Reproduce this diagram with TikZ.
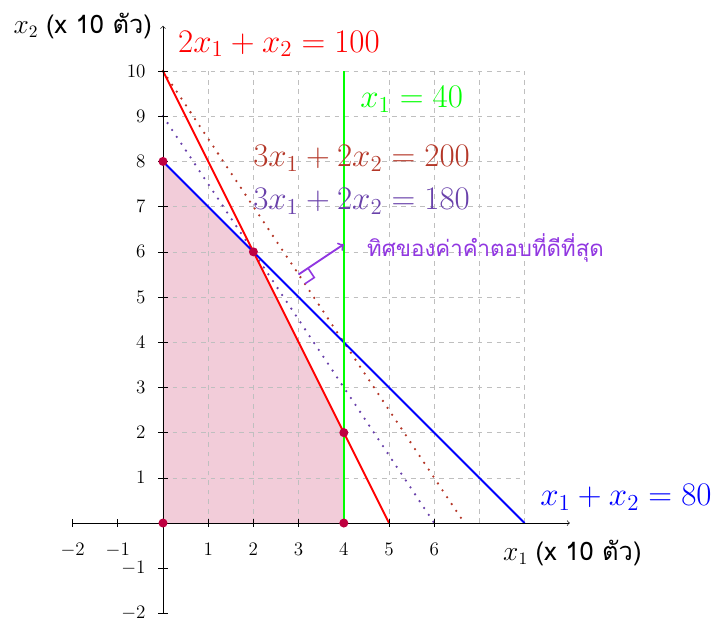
\documentclass[tikz,border=0pt]{standalone}
\usepackage{amsmath, amssymb}
\usepackage{fontspec}
\usepackage[dvipsnames]{xcolor}
\usepackage{tikz}
\usetikzlibrary{positioning, calc}
\newfontfamily\thaifont[Script=Thai]{Loma}
\definecolor{objbrown}{RGB}{180,55,40}
\definecolor{objpurple}{RGB}{105,65,170}
\definecolor{dirviolet}{RGB}{145,55,225}

\begin{document}
\begin{tikzpicture}[
		ticklbl/.style={font=\fontsize{12.8}{14}\selectfont, inner sep=0pt},
		eqlbl/.style={font=\fontsize{19.5}{22}\selectfont, inner sep=0pt, anchor=west},
		axislbl/.style={font=\fontsize{16}{18}\selectfont, inner sep=0pt},
		dotline/.style={line width=1.6pt, line cap=round, dash pattern=on 0pt off 5.2pt},
		bound/.style={line width=1.2pt}
	]
				\useasboundingbox (-3.606,-2.212) rectangle (12.212,11.571);
				% feasible region
				\fill[purple!20] (0,0) -- (0,8) -- (2,6) -- (4,2) -- (4,0) -- cycle;
				\draw[gray!50, dashed] (0,0) grid (8,10);
				% objective lines
				\draw[objbrown, dotline] (0,10) -- (20/3,0);
				\draw[objpurple, dotline] (0,9) -- (6,0);
				% constraints
				\draw[red, bound] (0,10) -- (5,0);
				\draw[blue, bound] (0,8) -- (8,0);
				\draw[green, bound] (4,0) -- (4,10);
				% axes
				\draw[black, ->] (-2,0) -- (9,0);
				\draw[black, ->] (0,-2) -- (0,11);
				\foreach \i in {-2,-1,1,2,3,4,5,6}
					\draw (\i,0.08) -- (\i,-0.08) node[ticklbl, anchor=north, yshift=-0.36cm] {$\i$};
				\foreach \j in {-2,-1,1,2,3,4,5,6,7,8,9,10}
					\draw (0.1,\j) -- (-0.1,\j) node[ticklbl, anchor=east, xshift=-0.28cm] {$\j$};
				\node[axislbl, anchor=west] (xlbl) at (7.52,-0.66) {$x_1$ {\thaifont (x 10 ตัว)}};
				\node[axislbl, anchor=east] (ylbl) at (-0.24,11.0) {$x_2$ {\thaifont (x 10 ตัว)}};
				% corner points
				\foreach \p in {(0,0),(0,8),(2,6),(4,2),(4,0)}
					\fill[purple] \p circle (0.1);
				% direction of best objective
				\coordinate (dirA) at (3,5.5);
				\coordinate (dirB) at (4,6.1667);
				\draw[dirviolet, line width=1.2pt, ->] (dirA) -- (dirB);
				\draw[dirviolet, line width=1pt] ($(dirA)+(0.139,-0.208)$) -- ++(0.208,0.139) -- ++(-0.139,0.208);
				% labels
				\node[eqlbl, text=red] (lblred) at (0.33,10.6) {$2x_1+x_2=100$};
				\node[eqlbl, text=green] (lblgreen) at (4.36,9.38) {$x_1=40$};
				\node[eqlbl, text=objbrown] (lblbrown) at (1.99,8.07) {$3x_1+2x_2=200$};
				\node[eqlbl, text=objpurple] (lblpurple) at (1.99,7.12) {$3x_1+2x_2=180$};
				\node[eqlbl, text=blue] (lblblue) at (8.34,0.575) {$x_1+x_2=80$};
				\node[anchor=west, text=dirviolet, inner sep=0pt, font=\thaifont\fontsize{14}{17}\selectfont] (dirlbl) at (4.51,6.08) {ทิศของค่าคำตอบที่ดีที่สุด};
			\end{tikzpicture}
\end{document}
